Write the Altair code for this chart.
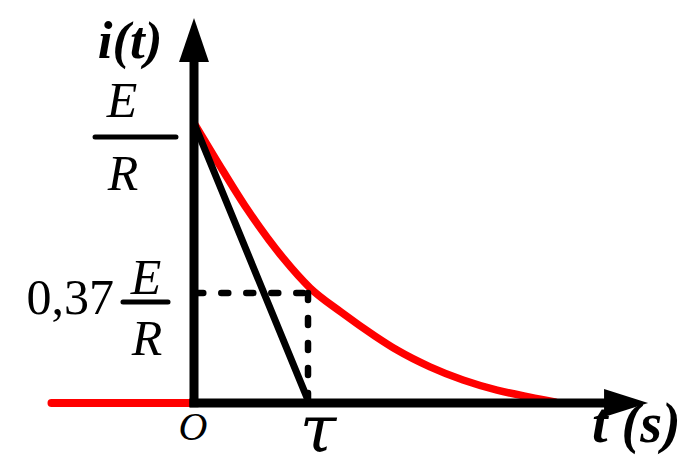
import altair as alt
import pandas as pd

# ---- data (t in units of tau, i in units of E/R) ----
curve_t = [0.0, 0.202, 0.465, 0.781, 1.018, 1.289, 1.588, 1.781, 2.070, 2.360, 2.658, 2.947, 3.167]
curve_i = [1.0, 0.864, 0.693, 0.518, 0.411, 0.325, 0.239, 0.189, 0.129, 0.082, 0.046, 0.021, 0.004]

left_t = [-1.25, 0.0]
left_i = [0.0, 0.0]

tangent_t = [0.0, 0.99]
tangent_i = [1.0, 0.02]

tau = 1.0
level = 0.393          # drawn height of the 0,37 E/R mark

axis_x_end = 3.79      # x-axis runs to arrow
axis_y_end = 1.296     # y-axis runs to arrow

X_DOMAIN = [-1.6316, 4.2982]
Y_DOMAIN = [-0.1857, 1.4107]

xs = alt.Scale(domain=X_DOMAIN, nice=False, zero=False)
ys = alt.Scale(domain=Y_DOMAIN, nice=False, zero=False)

def line_df(t, i):
    return pd.DataFrame({"t": t, "i": i, "o": list(range(len(t)))})

def line(df, color, width, dash=None, cap="round", interp="linear"):
    kw = dict(color=color, strokeWidth=width, strokeCap=cap, interpolate=interp, clip=False)
    if dash:
        kw["strokeDash"] = dash
    return alt.Chart(df).mark_line(**kw).encode(
        x=alt.X("t:Q", scale=xs, axis=None),
        y=alt.Y("i:Q", scale=ys, axis=None),
        order="o:O",
    )

red_curve = line(line_df(curve_t, curve_i), "#ff0000", 7.5, interp="monotone")
red_left = line(line_df(left_t, left_i), "#ff0000", 8)

x_axis = line(line_df([-0.04, axis_x_end], [0, 0]), "black", 9, cap="butt")
y_axis = line(line_df([0, 0], [-0.015, axis_y_end]), "black", 9, cap="butt")

tangent = line(line_df(tangent_t, tangent_i), "black", 7)

dash_h = line(line_df([0.02, tau], [level, level]), "black", 6.5, dash=[7, 18])
dash_v = line(line_df([tau, tau], [level, 0.0]), "black", 6.5, dash=[7, 18])

arrows = pd.DataFrame({
    "t": [0.0, axis_x_end],
    "i": [axis_y_end, 0.0],
    "shape": ["M0,-1L0.68,1L-0.68,1Z", "M1,0L-1,-0.64L-1,0.64Z"],
})
arrow_marks = alt.Chart(arrows).mark_point(filled=True, color="black", opacity=1, size=1936, strokeWidth=0).encode(
    x=alt.X("t:Q", scale=xs, axis=None),
    y=alt.Y("i:Q", scale=ys, axis=None),
    shape=alt.Shape("shape:N", scale=None),
)

# fraction bars
bars = pd.DataFrame({
    "t1": [-0.868, -0.623],
    "t2": [-0.158, -0.228],
    "i": [0.950, 0.361],
})
frac_bars = alt.Chart(bars).mark_rule(color="black", strokeWidth=5, strokeCap="round").encode(
    x=alt.X("t1:Q", scale=xs, axis=None),
    x2="t2:Q",
    y=alt.Y("i:Q", scale=ys, axis=None),
)

def label(text, t, i, size, style="italic", weight="normal", align="center", font="Liberation Serif"):
    return alt.Chart(pd.DataFrame({"a": [0]})).mark_text(
        text=text, font=font, fontSize=size, fontStyle=style,
        fontWeight=weight, align=align, baseline="alphabetic", color="black",
    ).encode(x=alt.datum(t, scale=xs), y=alt.datum(i, scale=ys))

labels = [
    label("i(t)", -0.561, 1.232, 53, weight="bold"),
    label("E", -0.632, 1.021, 50),
    label("R", -0.623, 0.761, 50),
    label("0,37", -0.702, 0.318, 50, style="normal", align="right"),
    label("E", -0.421, 0.389, 50),
    label("R", -0.412, 0.171, 50),
    label("O", -0.009, -0.132, 40),
    label("τ", 1.088, -0.175, 66, font="DejaVu Serif"),
    label("t (s)", 3.491, -0.14, 56, weight="bold", align="left"),
]

chart = alt.layer(
    red_curve, red_left, tangent, dash_h, dash_v, x_axis, y_axis, arrow_marks, frac_bars, *labels
).properties(
    width=676, height=447, padding=0, autosize=alt.AutoSizeParams(type="none"),
    background="white",
).configure_view(stroke=None)

chart.save("out.html", embed_options={"renderer": "svg", "actions": False})
